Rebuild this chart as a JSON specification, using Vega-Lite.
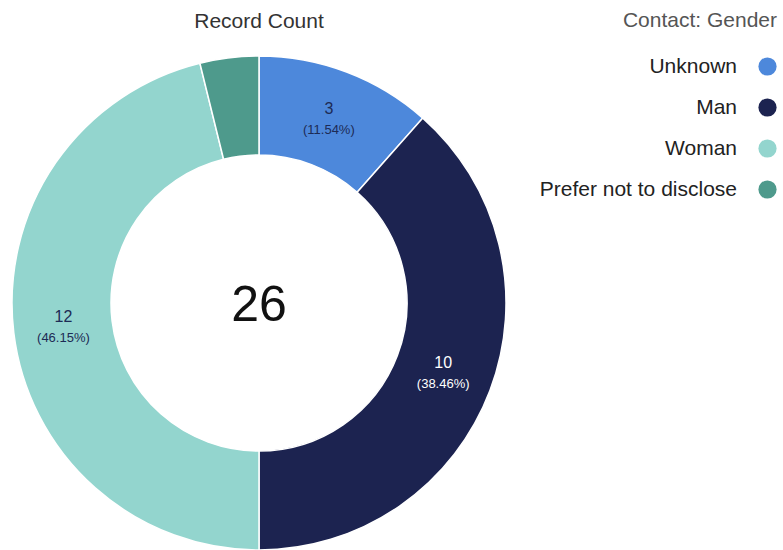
{
  "$schema": "https://vega.github.io/schema/vega-lite/v6.json",
  "autosize": "none",
  "width": 518,
  "height": 494,
  "padding": {"left": 0, "top": 56, "right": 265, "bottom": 0},
  "background": "white",
  "title": {
    "text": "Record Count",
    "font": "Liberation Sans",
    "fontSize": 21,
    "fontWeight": "normal",
    "color": "#333333",
    "anchor": "middle",
    "frame": "group",
    "offset": -22
  },
  "config": {
    "view": {"stroke": null},
    "font": "Liberation Sans"
  },
  "data": {
    "values": [
      {"idx": 1, "gender": "Unknown", "count": 3, "pctLabel": "(11.54%)"},
      {"idx": 2, "gender": "Man", "count": 10, "pctLabel": "(38.46%)"},
      {"idx": 3, "gender": "Woman", "count": 12, "pctLabel": "(46.15%)"},
      {"idx": 4, "gender": "Prefer not to disclose", "count": 1, "pctLabel": ""}
    ]
  },
  "layer": [
    {
      "mark": {"type": "arc", "outerRadius": 247, "innerRadius": 148, "stroke": "white", "strokeWidth": 1.5},
      "encoding": {
        "theta": {"field": "count", "type": "quantitative", "stack": true},
        "order": {"field": "idx", "type": "quantitative"},
        "color": {
          "field": "gender",
          "type": "nominal",
          "scale": {
            "domain": ["Unknown", "Man", "Woman", "Prefer not to disclose"],
            "range": ["#4d88db", "#1c2350", "#93d5ce", "#4e9a8c"]
          },
          "legend": {
            "title": "Contact: Gender",
            "orient": "none",
            "legendX": 623,
            "legendY": -46,
            "symbolType": "circle",
            "symbolSize": 330,
            "symbolStrokeWidth": 0,
            "symbolOpacity": 1,
            "labelFont": "Liberation Sans",
            "labelFontSize": 21,
            "labelColor": "#222222",
            "labelAlign": "right",
            "labelOffset": -41,
            "labelLimit": 260,
            "rowPadding": 19,
            "titleFont": "Liberation Sans",
            "titleFontSize": 21,
            "titleFontWeight": "normal",
            "titleColor": "#555555",
            "titleAnchor": "end",
            "titleAlign": "right",
            "titlePadding": 25
          }
        }
      }
    },
    {
      "mark": {"type": "text", "radius": 197, "dy": -10, "fontSize": 16, "font": "Liberation Sans"},
      "encoding": {
        "theta": {"field": "count", "type": "quantitative", "stack": true},
        "order": {"field": "idx", "type": "quantitative"},
        "text": {
          "condition": {"test": "datum.gender === 'Prefer not to disclose'", "value": ""},
          "field": "count",
          "type": "quantitative"
        },
        "color": {
          "condition": {"test": "datum.gender === 'Man'", "value": "#ffffff"},
          "value": "#1d2b55"
        }
      }
    },
    {
      "mark": {"type": "text", "radius": 197, "dy": 11, "fontSize": 13, "font": "Liberation Sans"},
      "encoding": {
        "theta": {"field": "count", "type": "quantitative", "stack": true},
        "order": {"field": "idx", "type": "quantitative"},
        "text": {"field": "pctLabel", "type": "nominal"},
        "color": {
          "condition": {"test": "datum.gender === 'Man'", "value": "#ffffff"},
          "value": "#1d2b55"
        }
      }
    },
    {
      "data": {"values": [{"total": 26}]},
      "mark": {"type": "text", "fontSize": 50, "font": "Liberation Sans", "color": "#111111", "baseline": "middle", "align": "center", "dy": 3},
      "encoding": {
        "text": {"field": "total", "type": "quantitative"}
      }
    }
  ]
}
